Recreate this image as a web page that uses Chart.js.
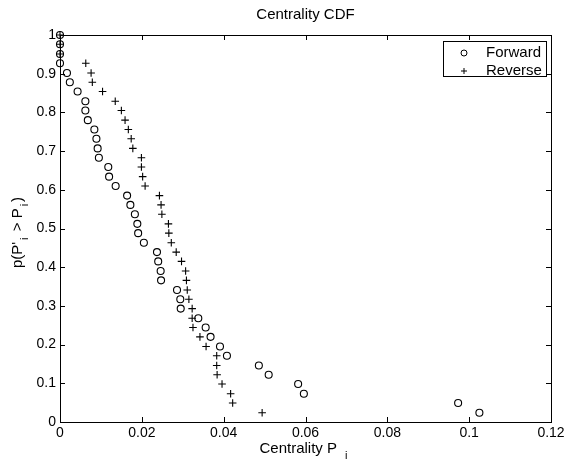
<!DOCTYPE html>
<html>
<head>
<meta charset="utf-8">
<script src="https://cdn.jsdelivr.net/npm/chart.js@4.4.1/dist/chart.umd.min.js"></script>
<style>
  html, body { margin: 0; padding: 0; background: #ffffff; }
  canvas { display: block; }
</style>
</head>
<body>
<canvas id="c" width="573" height="463"></canvas>
<script>
// ---- data ----
const probValues = [1, 0.976, 0.951, 0.927, 0.902, 0.878, 0.854, 0.829, 0.805, 0.780, 0.756, 0.732, 0.707, 0.683, 0.659, 0.634, 0.610, 0.585, 0.561, 0.537, 0.512, 0.488, 0.463, 0.439, 0.415, 0.390, 0.366, 0.341, 0.317, 0.293, 0.268, 0.244, 0.220, 0.195, 0.171, 0.146, 0.122, 0.098, 0.073, 0.049, 0.024];
const forwardX = [0, 0, 0, 0, 0.0017, 0.0024, 0.0043, 0.0062, 0.0062, 0.0068, 0.0084, 0.0089, 0.0092, 0.0095, 0.0118, 0.0120, 0.0136, 0.0164, 0.0172, 0.0183, 0.0189, 0.0191, 0.0205, 0.0237, 0.0240, 0.0246, 0.0247, 0.0286, 0.0294, 0.0295, 0.0338, 0.0356, 0.0368, 0.0391, 0.0408, 0.0486, 0.0510, 0.0582, 0.0596, 0.0973, 0.1025];
const reverseX = [0, 0, 0, 0.0063, 0.0076, 0.0079, 0.0104, 0.0135, 0.0150, 0.0159, 0.0167, 0.0174, 0.0178, 0.0199, 0.0199, 0.0202, 0.0208, 0.0243, 0.0247, 0.0249, 0.0265, 0.0266, 0.0272, 0.0284, 0.0297, 0.0307, 0.0309, 0.0311, 0.0315, 0.0323, 0.0323, 0.0325, 0.0342, 0.0357, 0.0383, 0.0383, 0.0384, 0.0396, 0.0417, 0.0422, 0.0494];
const seriesNames = ['Forward', 'Reverse'];
const xTicks = [0, 0.02, 0.04, 0.06, 0.08, 0.1, 0.12];
const yTicks = [0, 0.1, 0.2, 0.3, 0.4, 0.5, 0.6, 0.7, 0.8, 0.9, 1];
const chartTitle = 'Centrality CDF';

const FONT = "'Liberation Sans', Arial, Helvetica, sans-serif";
const FS = 14;   // tick labels
const FT = 15;   // titles & legend

function toPoints(xs) { return xs.map((x, i) => ({ x: x, y: probValues[i] })); }

const decorPlugin = {
  id: 'decor',
  afterDraw(chart) {
    const ctx = chart.ctx;
    const a = chart.chartArea;
    const xs = chart.scales.x, ys = chart.scales.y;
    ctx.save();
    ctx.strokeStyle = '#000';
    ctx.lineWidth = 1;
    // box top & right
    ctx.beginPath();
    ctx.moveTo(Math.round(a.left) + 0.5, Math.round(a.top) + 0.5);
    ctx.lineTo(Math.round(a.right) + 0.5, Math.round(a.top) + 0.5);
    ctx.lineTo(Math.round(a.right) + 0.5, Math.round(a.bottom) + 0.5);
    ctx.stroke();
    // inward ticks
    const TL = 5;
    ctx.beginPath();
    xTicks.forEach(v => {
      const px = Math.round(xs.getPixelForValue(v)) + 0.5;
      ctx.moveTo(px, a.bottom); ctx.lineTo(px, a.bottom - TL);
      ctx.moveTo(px, a.top); ctx.lineTo(px, a.top + TL);
    });
    yTicks.forEach(v => {
      const py = Math.round(ys.getPixelForValue(v)) + 0.5;
      ctx.moveTo(a.left, py); ctx.lineTo(a.left + TL, py);
      ctx.moveTo(a.right, py); ctx.lineTo(a.right - TL, py);
    });
    ctx.stroke();

    // axis titles with subscripts
    function drawParts(parts, cx, cy) {
      let total = 0;
      parts.forEach(p => {
        ctx.font = (p.sub ? 11 : FT) + 'px ' + FONT;
        p.w = ctx.measureText(p.t).width + (p.gap || 0);
        total += p.w;
      });
      let x = cx - total / 2;
      parts.forEach(p => {
        ctx.font = (p.sub ? 11 : FT) + 'px ' + FONT;
        ctx.fillText(p.t, x + (p.pre || 0), cy + (p.sub ? 7 : 0));
        x += p.w;
      });
    }
    ctx.fillStyle = '#000';
    ctx.textBaseline = 'middle';
    ctx.textAlign = 'left';
    const xc = (a.left + a.right) / 2;
    drawParts([{ t: 'Centrality P' }, { t: 'i', sub: true, pre: 8, gap: 8 }], xc - 2, 449);
    ctx.save();
    ctx.translate(20, (a.top + a.bottom) / 2 + 4);
    ctx.rotate(-Math.PI / 2);
    drawParts([{ t: "p(P'" }, { t: 'i', sub: true, pre: 2, gap: 4 }, { t: ' > P' }, { t: 'i', sub: true, pre: 2, gap: 4 }, { t: ')' }], 0, -2);
    ctx.restore();

    // legend
    const lx = 443, ly = 41, lw = 103, lh = 35;
    ctx.fillStyle = '#fff';
    ctx.fillRect(lx, ly, lw, lh);
    ctx.strokeRect(lx + 0.5, ly + 0.5, lw, lh);
    chart.data.datasets.forEach((ds, i) => {
      const cy = ly + 12 + i * 18;
      ctx.strokeStyle = '#000';
      ctx.lineWidth = 1;
      Chart.helpers.drawPoint(ctx, { pointStyle: ds.pointStyle, radius: 3, borderWidth: 1, rotation: 0 }, 464, cy);
      ctx.fillStyle = '#000';
      ctx.font = FT + 'px ' + FONT;
      ctx.textAlign = 'left';
      ctx.textBaseline = 'middle';
      ctx.fillText(seriesNames[i], 486, cy);
    });
    ctx.restore();
  }
};

new Chart(document.getElementById('c'), {
  type: 'scatter',
  data: {
    datasets: [
      { label: seriesNames[0], data: toPoints(forwardX), pointStyle: 'circle', pointRadius: 3.5, borderWidth: 1.1, borderColor: '#000', backgroundColor: 'rgba(0,0,0,0)', clip: false },
      { label: seriesNames[1], data: toPoints(reverseX), pointStyle: 'cross', pointRadius: 3.8, borderWidth: 1.1, borderColor: '#000', backgroundColor: 'rgba(0,0,0,0)', clip: false }
    ]
  },
  options: {
    responsive: false,
    animation: false,
    devicePixelRatio: 1,
    layout: { padding: { top: 6, right: 22, left: 0, bottom: 0 } },
    plugins: {
      legend: { display: false },
      tooltip: { enabled: false },
      title: {
        display: true, fullSize: false, text: chartTitle, color: '#000',
        font: { family: FONT, size: FT, weight: 'normal' },
        padding: { top: 0, bottom: 11 }
      }
    },
    scales: {
      x: {
        type: 'linear', min: 0, max: 0.12,
        afterBuildTicks(scale) { scale.ticks = xTicks.map(v => ({ value: v })); },
        afterFit(scale) { scale.height = 41; },
        grid: { display: true, drawOnChartArea: false, drawTicks: false },
        border: { display: true, color: '#000', width: 1 },
        ticks: { color: '#000', padding: 3, maxRotation: 0, autoSkip: false, font: { family: FONT, size: FS },
          callback: v => String(v) }
      },
      y: {
        type: 'linear', min: 0, max: 1,
        afterBuildTicks(scale) { scale.ticks = yTicks.map(v => ({ value: v })); },
        afterFit(scale) { scale.width = 60; },
        grid: { display: true, drawOnChartArea: false, drawTicks: false },
        border: { display: true, color: '#000', width: 1 },
        ticks: { color: '#000', padding: 4, autoSkip: false, font: { family: FONT, size: FS },
          callback: v => String(v) }
      }
    }
  },
  plugins: [decorPlugin]
});
</script>
</body>
</html>
